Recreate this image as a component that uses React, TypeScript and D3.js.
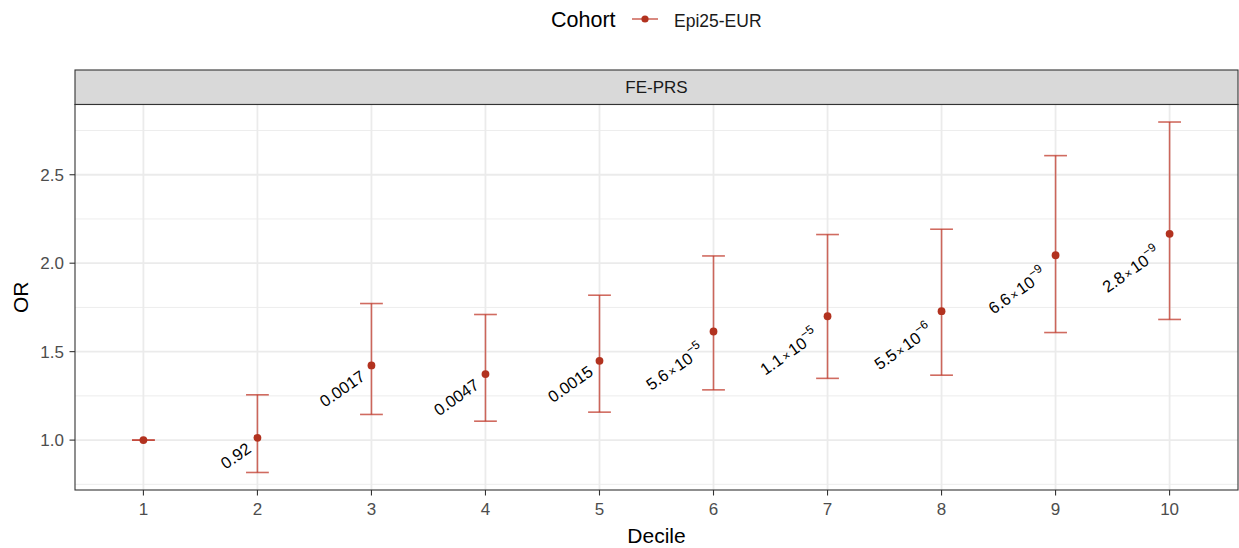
import React from "react";
import * as d3 from "d3";

const deciles = [1, 2, 3, 4, 5, 6, 7, 8, 9, 10];
const orValues = [1.0, 1.013, 1.422, 1.373, 1.448, 1.614, 1.7, 1.729, 2.045, 2.166];
const ciLower = [1.0, 0.817, 1.145, 1.107, 1.158, 1.284, 1.349, 1.367, 1.608, 1.682];
const ciUpper = [1.0, 1.256, 1.772, 1.71, 1.819, 2.041, 2.162, 2.192, 2.608, 2.798];
// p-value labels: mantissa, exponent (null = plain number)
const pMantissa = [null, "0.92", "0.0017", "0.0047", "0.0015", "5.6", "1.1", "5.5", "6.6", "2.8"];
const pExponent = [null, null, null, null, null, -5, -5, -6, -9, -9];

const yMajorTicks = [1.0, 1.5, 2.0, 2.5];
const yMinorTicks = [0.75, 1.25, 1.75, 2.25, 2.75];

const cohortName = "Epi25-EUR";
const panelTitle = "FE-PRS";

const W = 1239;
const H = 548;
const PANEL = { left: 75, right: 1238, top: 104.5, bottom: 490 };
const STRIP_TOP = 70;
const FONT = "'Liberation Sans', Arial, Helvetica, sans-serif";
const POINT_COLOR = "#B2321F";
const BAR_COLOR = "#C0392B";
const LABEL_ANGLE = 35;

export default function App() {
  const x = d3.scaleLinear().domain([0.4, 10.6]).range([PANEL.left, PANEL.right]);
  const lo = d3.min(ciLower) as number;
  const hi = d3.max(ciUpper) as number;
  const pad = (hi - lo) * 0.05;
  const y = d3.scaleLinear().domain([lo - pad, hi + pad]).range([PANEL.bottom, PANEL.top]);
  const capHalf = x(1.1) - x(1);

  return (
    <svg
      width={W}
      height={H}
      style={{ position: "absolute", left: 0, top: 0, background: "#fff" }}
      fontFamily={FONT}
    >
      {/* legend */}
      <g>
        <text x={551} y={27} fontSize={21.5} fill="#000">Cohort</text>
        <line x1={632} x2={658} y1={19} y2={19} stroke={BAR_COLOR} strokeOpacity={0.75} strokeWidth={1.6} />
        <circle cx={645} cy={19} r={3.6} fill={POINT_COLOR} />
        <text x={674} y={26.5} fontSize={17.5} fill="#1A1A1A">{cohortName}</text>
      </g>

      {/* strip */}
      <rect
        x={PANEL.left}
        y={STRIP_TOP}
        width={PANEL.right - PANEL.left}
        height={PANEL.top - STRIP_TOP}
        fill="#D9D9D9"
        stroke="#333"
        strokeWidth={1.1}
      />
      <text
        x={(PANEL.left + PANEL.right) / 2}
        y={(STRIP_TOP + PANEL.top) / 2 + 6}
        fontSize={17}
        textAnchor="middle"
        fill="#1A1A1A"
      >
        {panelTitle}
      </text>

      {/* panel grid */}
      <rect x={PANEL.left} y={PANEL.top} width={PANEL.right - PANEL.left} height={PANEL.bottom - PANEL.top} fill="#fff" />
      {yMinorTicks.map((t) => (
        <line key={"ym" + t} x1={PANEL.left} x2={PANEL.right} y1={y(t)} y2={y(t)} stroke="#EBEBEB" strokeWidth={0.9} />
      ))}
      {yMajorTicks.map((t) => (
        <line key={"yM" + t} x1={PANEL.left} x2={PANEL.right} y1={y(t)} y2={y(t)} stroke="#EBEBEB" strokeWidth={1.8} />
      ))}
      {deciles.map((d) => (
        <line key={"xM" + d} x1={x(d)} x2={x(d)} y1={PANEL.top} y2={PANEL.bottom} stroke="#EBEBEB" strokeWidth={1.8} />
      ))}

      {/* error bars */}
      {deciles.map((d, i) => (
        <g key={"eb" + d} stroke={BAR_COLOR} strokeOpacity={0.75} strokeWidth={1.6}>
          <line x1={x(d)} x2={x(d)} y1={y(ciLower[i])} y2={y(ciUpper[i])} />
          <line x1={x(d) - capHalf} x2={x(d) + capHalf} y1={y(ciUpper[i])} y2={y(ciUpper[i])} />
          <line x1={x(d) - capHalf} x2={x(d) + capHalf} y1={y(ciLower[i])} y2={y(ciLower[i])} />
        </g>
      ))}

      {/* points */}
      {deciles.map((d, i) => (
        <circle key={"pt" + d} cx={x(d)} cy={y(orValues[i])} r={3.9} fill={POINT_COLOR} />
      ))}

      {/* p-value labels */}
      {deciles.map((d, i) => {
        const m = pMantissa[i];
        if (m == null) return null;
        const e = pExponent[i];
        return (
          <g key={"lb" + d} transform={`translate(${x(d)},${y(orValues[i])}) rotate(${-LABEL_ANGLE})`}>
            <text x={e == null ? -12 : -19} y={e == null ? 8 : 13} fontSize={16.5} textAnchor="end" fill="#000">
              {e == null ? (
                m
              ) : (
                <>
                  <tspan>{m}</tspan>
                  <tspan fontSize={12} dx={2}>×</tspan>
                  <tspan dx={2}>10</tspan>
                  <tspan fontSize={12} dy={-8}>{"\u2212" + Math.abs(e)}</tspan>
                </>
              )}
            </text>
          </g>
        );
      })}

      {/* panel border */}
      <rect
        x={PANEL.left}
        y={PANEL.top}
        width={PANEL.right - PANEL.left}
        height={PANEL.bottom - PANEL.top}
        fill="none"
        stroke="#333"
        strokeWidth={1.1}
      />

      {/* y axis */}
      {yMajorTicks.map((t) => (
        <g key={"yt" + t}>
          <line x1={PANEL.left - 5.5} x2={PANEL.left} y1={y(t)} y2={y(t)} stroke="#333" strokeWidth={1.1} />
          <text x={PANEL.left - 11} y={y(t) + 6} fontSize={17} textAnchor="end" fill="#4D4D4D">
            {d3.format(".1f")(t)}
          </text>
        </g>
      ))}

      {/* x axis */}
      {deciles.map((d) => (
        <g key={"xt" + d}>
          <line x1={x(d)} x2={x(d)} y1={PANEL.bottom} y2={PANEL.bottom + 5.5} stroke="#333" strokeWidth={1.1} />
          <text x={x(d)} y={515} fontSize={17} textAnchor="middle" fill="#4D4D4D">
            {d}
          </text>
        </g>
      ))}

      {/* axis titles */}
      <text x={(PANEL.left + PANEL.right) / 2} y={543} fontSize={21} textAnchor="middle" fill="#000">
        Decile
      </text>
      <text
        transform={`translate(28,${(PANEL.top + PANEL.bottom) / 2}) rotate(-90)`}
        fontSize={21}
        textAnchor="middle"
        fill="#000"
      >
        OR
      </text>
    </svg>
  );
}
